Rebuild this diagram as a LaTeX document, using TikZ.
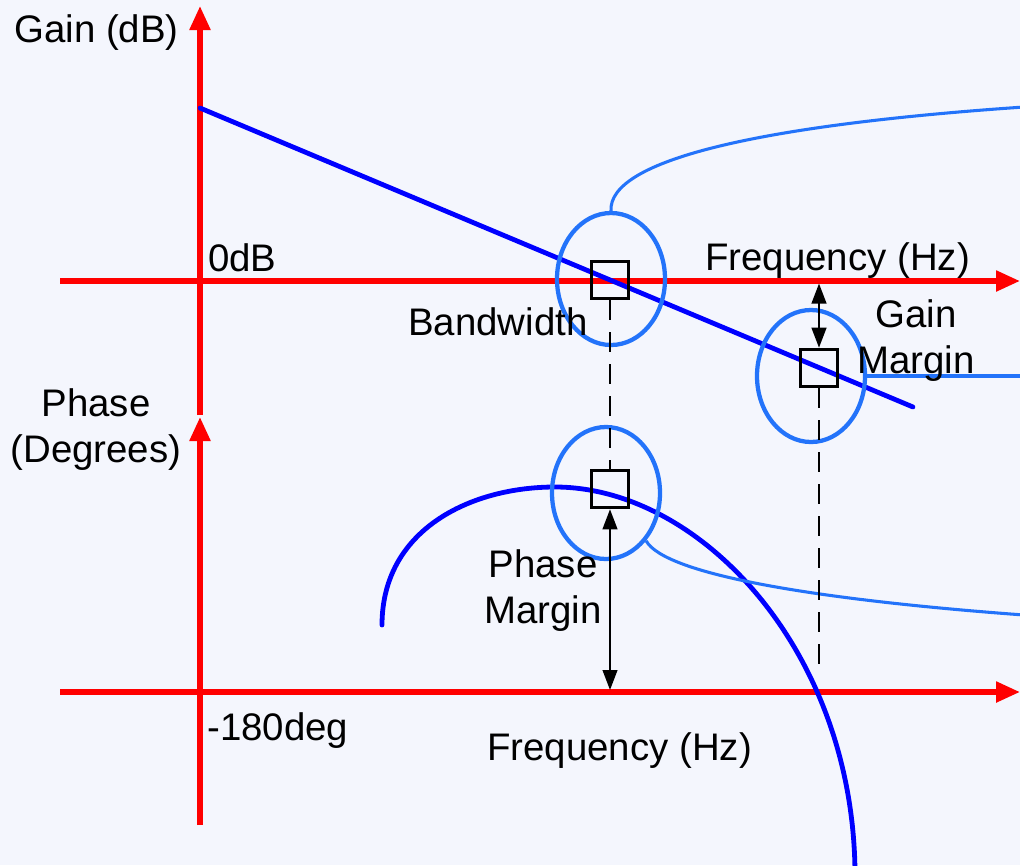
\documentclass[tikz,border=0pt]{standalone}
\usepackage{fontspec}
\setmainfont{Liberation Sans}
\usetikzlibrary{arrows.meta,shapes.geometric}
\definecolor{bg}{RGB}{244,246,253}
\definecolor{lblue}{RGB}{35,115,250}
\begin{document}
\begin{tikzpicture}[x=0.75pt,y=-0.75pt,
  axis/.style={draw=red,line width=4pt,-{Triangle[length=18pt,width=15pt]}},
  mainline/.style={draw=blue,line width=3.6pt,line cap=round},
  thinblue/.style={draw=lblue,line width=2.3pt},
  ring/.style={ellipse,draw=lblue,line width=3.2pt,inner sep=0pt,minimum width=81pt,minimum height=99pt},
  marker/.style={rectangle,draw=black,line width=2.4pt,inner sep=0pt,minimum size=28pt},
  guide/.style={draw=black,line width=1.9pt,dash pattern=on 15pt off 9pt},
  margin/.style={draw=black,line width=1.6pt,{Triangle[length=15pt,width=11pt]}-{Triangle[length=15pt,width=11pt]}},
  lbl/.style={font=\fontsize{28.8}{34.5}\selectfont,inner sep=0pt,align=center,text=black}]
\fill[bg] (0,0) rectangle (1020,865);
\useasboundingbox (0,0) rectangle (1020,865);

% axes
\coordinate (gy0) at (200,415);
\coordinate (gy1) at (200,6);
\coordinate (py0) at (200,825);
\coordinate (py1) at (200,417);
\coordinate (gx0) at (60,281);
\coordinate (gx1) at (1020,281);
\coordinate (px0) at (60,692);
\coordinate (px1) at (1020,692);
\draw[axis] (gy0) -- (gy1);
\draw[axis] (py0) -- (py1);
\draw[axis] (gx0) -- (gx1);
\draw[axis] (px0) -- (px1);

% gain and phase curves
\coordinate (ga) at (200,108);
\coordinate (gb) at (913,407);
\draw[mainline] (ga) -- (gb);
\coordinate (pa) at (382,625);
\coordinate (pt) at (555,487);
\coordinate (pb) at (855,872);
\draw[mainline] (pa) .. controls (382,530) and (470,487) .. (pt)
  .. controls (700,487) and (853,650) .. (pb);

% rings
\node[ring] (e1) at (611,279) {};
\node[ring] (e2) at (811,376) {};
\node[ring] (e3) at (606,493) {};

% markers
\node[marker] (s1) at (610,280) {};
\node[marker] (s2) at (819,368) {};
\node[marker] (s3) at (610,489) {};

% callout curves
\coordinate (c1) at (1024,107);
\coordinate (c2) at (1024,376);
\coordinate (c3) at (1024,615);
\draw[thinblue] (e1.north) .. controls (608,160) and (760,125) .. (c1);
\draw[thinblue] (e2.east) -- (c2);
\draw[thinblue] (e3.-50) .. controls (665,575) and (820,600) .. (c3);

% guides
\coordinate (d2) at (819,676);
\draw[guide] (s1.south) -- (s3.north);
\draw[guide] (s2.south) -- (d2);

% margins
\coordinate (gm) at (819,283.5);
\coordinate (pm) at (610,690);
\draw[margin] (gm) -- (s2.north);
\draw[margin] (s3.south) -- (pm);

% labels
\node[lbl,anchor=base west] (tgain) at (14,42) {Gain (dB)};
\node[lbl,anchor=base west] (t0db) at (208,271) {0dB};
\node[lbl,anchor=base west] (tf1) at (705,270) {Frequency (Hz)};
\node[lbl,anchor=base west] (tbw) at (408,335) {Bandwidth};
\node[lbl] (tgm) at (916,341) {Gain\\Margin};
\node[lbl] (tph) at (96,430) {Phase\\(Degrees)};
\node[lbl] (tpm) at (543,591) {Phase\\Margin};
\node[lbl,anchor=base west] (t180) at (207,740) {-180deg};
\node[lbl,anchor=base west] (tf2) at (487,760) {Frequency (Hz)};
\end{tikzpicture}
\end{document}
